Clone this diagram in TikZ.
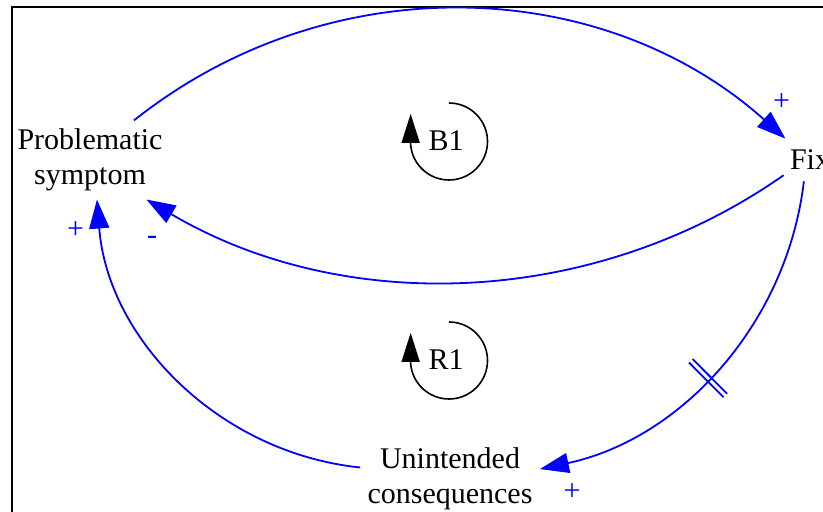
\documentclass[tikz,border=0pt]{standalone}
\usepackage{fontspec}
\setmainfont{Liberation Serif}
\usetikzlibrary{arrows.meta, decorations.markings}
\tikzset{
	varNode/.style={align=center, font=\fontsize{15}{17.5}\selectfont},
	polarity/.style={blue, inner sep=0pt, font=\fontsize{15}{17.5}\selectfont},
	causalLink/.style={blue, line width=.9pt, -{Triangle[length=14.5pt,width=10pt]}},
	causalLinkDelay/.style={causalLink, postaction={decorate},
		decoration={markings, mark=at position .535 with {\draw[blue, line width=.9pt, -] (-1.25pt,-12.25pt) -- (-1.25pt,12.25pt) (1.25pt,-12.25pt) -- (1.25pt,12.25pt);}}},
	loopArrow/.style={black, line width=.8pt, -{Triangle[length=14.5pt,width=9pt]}},
	loopName/.style={font=\fontsize{15}{17.5}\selectfont}
}
\begin{document}
\begin{tikzpicture}[x=.5pt, y=-.5pt]
\useasboundingbox (0,0) rectangle (823,512);
\draw [line width=.9pt] (12,7) rectangle (840,530);
% variables
\node [varNode, inner xsep=0pt, inner ysep=4pt] (symptom) at (90,160) {Problematic\\symptom};
\node [varNode, inner xsep=3pt, inner ysep=5.5pt] (fix) at (810,160) {Fix};
\node [varNode, inner xsep=3.5pt, inner ysep=0pt] (consequences) at (450,478.5) {Unintended\\consequences};
% links
\draw [causalLink] (symptom.42) .. controls (328,-34) and (601,-26) .. (fix.139);
\draw [causalLink] (fix.210) .. controls (594,308) and (344,316) .. (symptom.-35);
\draw [causalLinkDelay] (fix.254) .. controls (787,324) and (681,439) .. (consequences.6);
\draw [causalLink] (consequences.173) .. controls (220,453) and (108,340) .. (symptom.-80);
\node [polarity] (fixPlus) at (781.5,102) {+};
\node [polarity] (symptomMinus) at (152,240) {-};
\node [polarity] (consequencesPlus) at (572,492.5) {+};
\node [polarity] (symptomPlus) at (75.5,230.5) {+};
% loops
\node [loopName] (b1) at (446,141) {B1};
\draw [loopArrow] (b1.center) ++(3,-38) arc[start angle=-90, end angle=175, radius=38.5] -- ++(0,-31);
\node [loopName] (r1) at (446,360) {R1};
\draw [loopArrow] (r1.center) ++(3,-38) arc[start angle=-90, end angle=175, radius=38.5] -- ++(0,-31);
\end{tikzpicture}
\end{document}
